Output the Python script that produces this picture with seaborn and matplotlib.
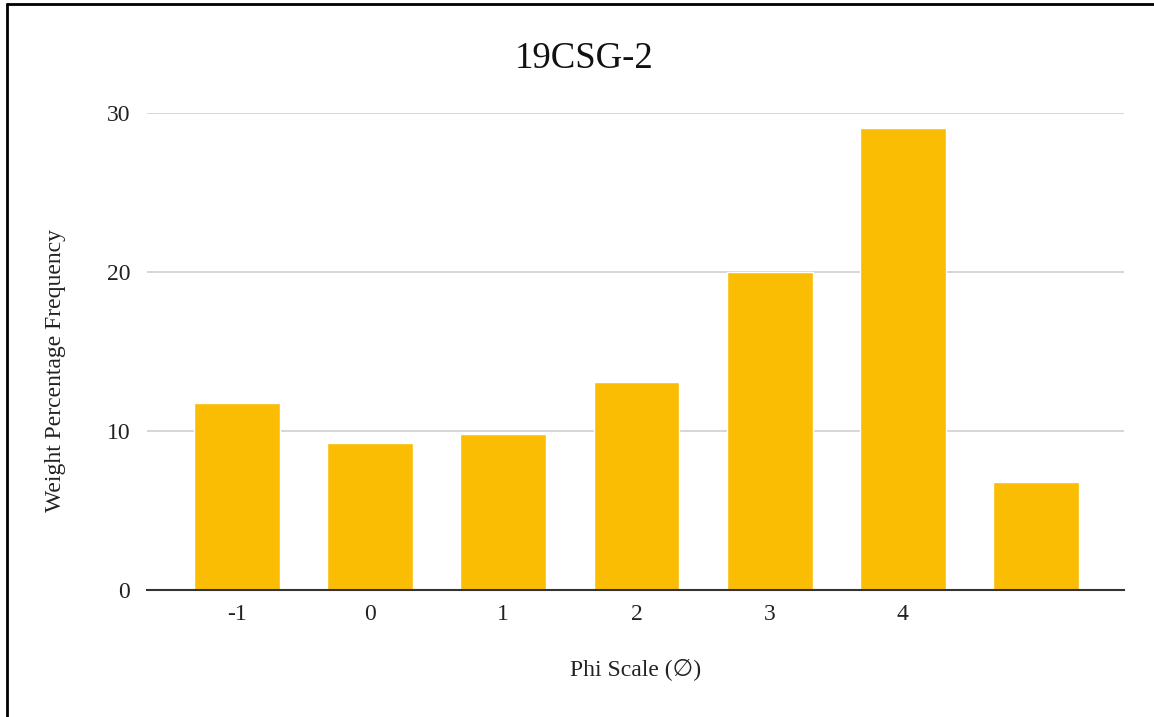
import matplotlib
matplotlib.use("Agg")
import matplotlib.pyplot as plt
import seaborn as sns
import pandas as pd
from matplotlib.lines import Line2D

# Sieve fractions (phi scale) and weight percentages
phi_labels = ["-1", "0", "1", "2", "3", "4", ""]
weight_pct = [11.75, 9.23, 9.8, 13.1, 20.0, 29.06, 6.82]
y_ticks = [0, 10, 20, 30]

df = pd.DataFrame({"pos": range(len(phi_labels)), "pct": weight_pct})

sns.set_theme(style="white")
plt.rcParams["font.family"] = ["Liberation Serif", "DejaVu Serif", "DejaVu Sans"]

W, H = 1154, 717
fig = plt.figure(figsize=(W / 100, H / 100), dpi=100)
ax = fig.add_axes([147 / W, (H - 590) / H, (1124 - 147) / W, (590 - 113.3) / H])

sns.barplot(data=df, x="pos", y="pct", color="#FBBC04", saturation=1,
            width=0.645, ax=ax, zorder=3)

ax.set_xlim(-0.675, len(phi_labels) - 1 + 0.66)
ax.set_ylim(0, 30)
ax.set_yticks(y_ticks)
ax.set_yticklabels([str(t) for t in y_ticks], fontsize=17, color="#222222")
ax.set_xticks(range(len(phi_labels)))
ax.set_xticklabels(phi_labels, fontsize=17, color="#222222")
ax.tick_params(axis="both", length=0)
ax.tick_params(axis="x", pad=10)
ax.tick_params(axis="y", pad=12)

ax.grid(axis="y", color="#d0d0d0", linewidth=1.2, zorder=0)
ax.grid(axis="x", visible=False)
for side in ["top", "right", "left"]:
    ax.spines[side].set_visible(False)
ax.spines["bottom"].set_color("#333333")
ax.spines["bottom"].set_linewidth(1.5)
ax.spines["bottom"].set_zorder(4)

ax.set_xlabel("Phi Scale (\u2205)", fontsize=17, color="#222222")
ax.xaxis.set_label_coords(0.5, (590 - 670) / (590 - 113.3))
ax.xaxis.label.set_va("center")
ax.set_ylabel("Weight Percentage Frequency", fontsize=17, color="#222222")
ax.yaxis.set_label_coords((55 - 147) / (1124 - 147), (590 - 370) / (590 - 113.3))
ax.yaxis.label.set_va("center")

fig.text(584 / W, (H - 59) / H, "19CSG-2", ha="center", va="center",
         fontsize=26.5, color="#111111")

# frame lines along the top and left edges of the figure
fx, fy = 7 / W, (H - 4) / H
fig.add_artist(Line2D([fx, 1.0], [fy, fy], transform=fig.transFigure,
                      color="#000000", linewidth=2))
fig.add_artist(Line2D([fx, fx], [0.0, fy], transform=fig.transFigure,
                      color="#000000", linewidth=2))

fig.savefig("out.png", dpi=100)
